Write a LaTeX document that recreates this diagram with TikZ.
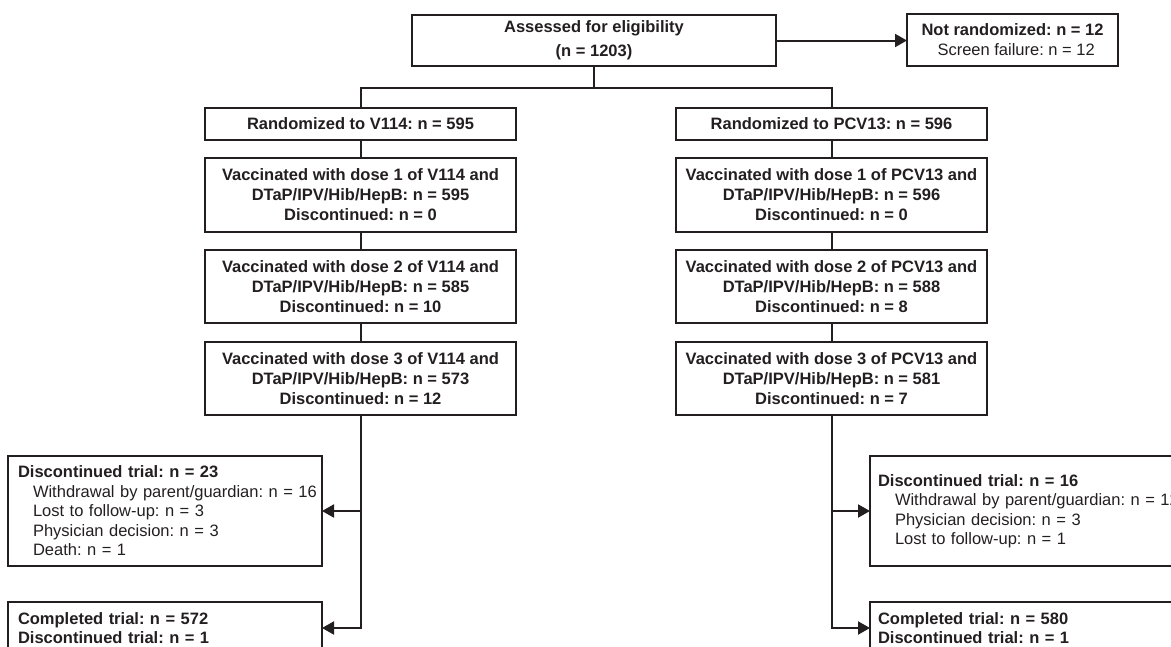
\documentclass[tikz,border=0pt]{standalone}
\usepackage{fontspec}
\setmainfont{Liberation Sans}
\usetikzlibrary{arrows.meta}
\definecolor{ink}{HTML}{231F20}
\frenchspacing
\begin{document}
\begin{tikzpicture}[x=1pt,y=-1pt,
  box/.style={draw=ink, line width=2.2pt, text=ink, inner sep=0pt, outer sep=0pt, align=center,
    font=\fontsize{16.5}{20}\selectfont\bfseries},
  lbox/.style={draw=ink, line width=2.2pt, text=ink, inner ysep=0pt, outer sep=0pt, align=left,
    font=\fontsize{16.5}{19.5}\selectfont},
  conn/.style={draw=ink, line width=2pt},
  arr/.style={conn, -{Triangle[length=12pt,width=13pt]}}
]
\useasboundingbox (0,0) rectangle (1171,646);
\clip (0,0) rectangle (1171,646);

% top
\node[box, minimum width=364pt, minimum height=51pt] (assess) at (594,40.5)
  {Assessed for eligibility\\[4pt](n = 1203)};
\node[box, minimum width=211pt, minimum height=52pt, align=left, font=\fontsize{16.5}{20}\selectfont] (notrand) at (1012.5,40)
  {\textbf{Not randomized: n = 12}\\\hspace*{16pt}Screen failure: n = 12};

% left arm
\node[box, minimum width=311pt, minimum height=32pt] (rand1) at (360.5,124) {Randomized to V114: n = 595};
\node[box, minimum width=311pt, minimum height=74pt] (d11) at (360.5,195)
  {Vaccinated with dose 1 of V114 and\\DTaP/IPV/Hib/HepB: n = 595\\Discontinued: n = 0};
\node[box, minimum width=311pt, minimum height=73pt] (d12) at (360.5,286.5)
  {Vaccinated with dose 2 of V114 and\\DTaP/IPV/Hib/HepB: n = 585\\Discontinued: n = 10};
\node[box, minimum width=311pt, minimum height=73pt] (d13) at (360.5,378.5)
  {Vaccinated with dose 3 of V114 and\\DTaP/IPV/Hib/HepB: n = 573\\Discontinued: n = 12};

% right arm
\node[box, minimum width=311pt, minimum height=32pt] (rand2) at (831.5,124) {Randomized to PCV13: n = 596};
\node[box, minimum width=311pt, minimum height=74pt] (d21) at (831.5,195)
  {Vaccinated with dose 1 of PCV13 and\\DTaP/IPV/Hib/HepB: n = 596\\Discontinued: n = 0};
\node[box, minimum width=311pt, minimum height=73pt] (d22) at (831.5,286.5)
  {Vaccinated with dose 2 of PCV13 and\\DTaP/IPV/Hib/HepB: n = 588\\Discontinued: n = 8};
\node[box, minimum width=311pt, minimum height=73pt] (d23) at (831.5,378.5)
  {Vaccinated with dose 3 of PCV13 and\\DTaP/IPV/Hib/HepB: n = 581\\Discontinued: n = 7};

% lower boxes
\node[lbox, text width=294pt, inner xsep=10pt, minimum height=110pt] (discL) at (165,511)
  {\textbf{Discontinued trial: n = 23}\\
   \mbox{\hspace*{15pt}Withdrawal by parent/guardian: n = 16}\\
   \hspace*{15pt}Lost to follow-up: n = 3\\
   \hspace*{15pt}Physician decision: n = 3\\
   \hspace*{15pt}Death: n = 1};
\node[lbox, text width=294pt, inner xsep=10pt, minimum height=52pt] (compL) at (165,628)
  {\textbf{Completed trial: n = 572}\\\textbf{Discontinued trial: n = 1}};

\node[lbox, text width=314pt, inner xsep=8pt, minimum height=110pt] (discR) at (1035,511)
  {\textbf{Discontinued trial: n = 16}\\
   \mbox{\hspace*{17pt}Withdrawal by parent/guardian: n = 12}\\
   \hspace*{17pt}Physician decision: n = 3\\
   \hspace*{17pt}Lost to follow-up: n = 1};
\node[lbox, text width=314pt, inner xsep=8pt, minimum height=52pt] (compR) at (1035,628)
  {\textbf{Completed trial: n = 580}\\\textbf{Discontinued trial: n = 1}};

% connectors
\coordinate (split) at (594,88);
\draw[conn] (assess.south) -- (split);
\draw[conn] (rand1.north) |- (split) -| (rand2.north);
\draw[arr] (assess.east) -- (notrand.west |- assess.east);

\draw[conn] (rand1.south) -- (d11.north);
\draw[conn] (d11.south) -- (d12.north);
\draw[conn] (d12.south) -- (d13.north);
\draw[conn] (rand2.south) -- (d21.north);
\draw[conn] (d21.south) -- (d22.north);
\draw[conn] (d22.south) -- (d23.north);

\draw[arr] (d13.south) |- (compL.east);
\draw[arr] (d13.south |- discL.east) -- (discL.east);
\draw[arr] (d23.south) |- (compR.west);
\draw[arr] (d23.south |- discR.west) -- (discR.west);
\end{tikzpicture}
\end{document}
